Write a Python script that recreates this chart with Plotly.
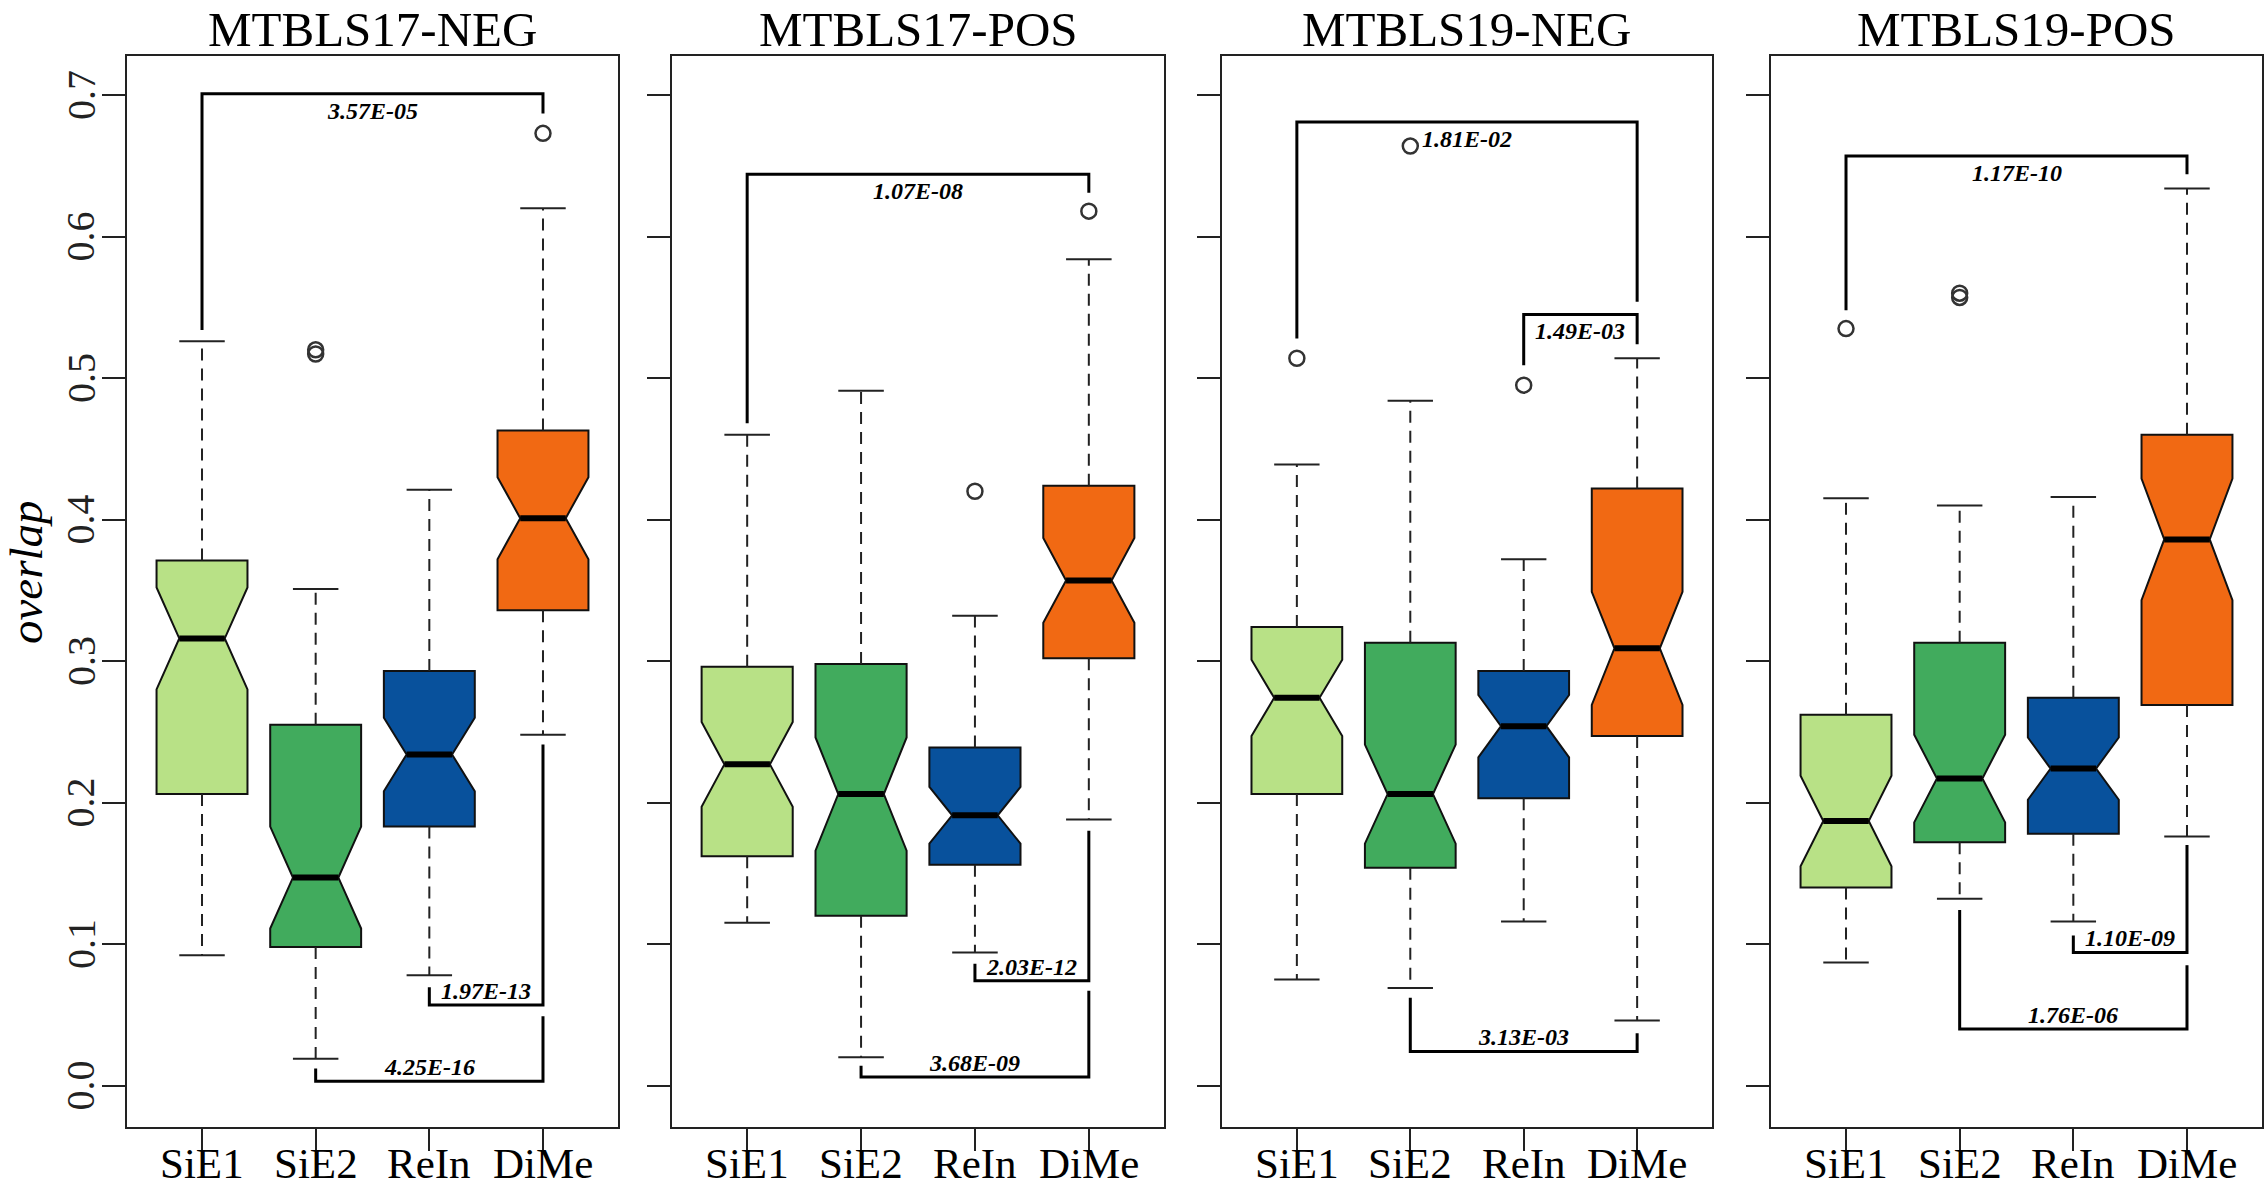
import plotly.graph_objects as go

# ---------------- data ----------------
methods = ["SiE1", "SiE2", "ReIn", "DiMe"]
panel_titles = ["MTBLS17-NEG", "MTBLS17-POS", "MTBLS19-NEG", "MTBLS19-POS"]
colors = ["#B8E186", "#41AB5D", "#08519C", "#F16913"]
y_title = "overlap"

# MTBLS17-NEG
p1_q1 = [0.206, 0.098, 0.183, 0.336]
p1_med = [0.316, 0.147, 0.234, 0.401]
p1_q3 = [0.371, 0.255, 0.293, 0.463]
p1_lo = [0.092, 0.019, 0.078, 0.248]
p1_hi = [0.526, 0.351, 0.421, 0.620]
p1_notch = [0.036, 0.036, 0.026, 0.029]
p1_out = [[], [0.517, 0.520], [], [0.673]]

# MTBLS17-POS
p2_q1 = [0.162, 0.120, 0.156, 0.302]
p2_med = [0.227, 0.206, 0.191, 0.357]
p2_q3 = [0.296, 0.298, 0.239, 0.424]
p2_lo = [0.115, 0.020, 0.094, 0.188]
p2_hi = [0.460, 0.491, 0.332, 0.584]
p2_notch = [0.030, 0.040, 0.020, 0.030]
p2_out = [[], [], [0.420], [0.618]]

# MTBLS19-NEG
p3_q1 = [0.206, 0.154, 0.203, 0.247]
p3_med = [0.274, 0.206, 0.254, 0.309]
p3_q3 = [0.324, 0.313, 0.293, 0.422]
p3_lo = [0.075, 0.069, 0.116, 0.046]
p3_hi = [0.439, 0.484, 0.372, 0.514]
p3_notch = [0.027, 0.035, 0.022, 0.040]
p3_out = [[0.514], [0.664], [0.495], []]

# MTBLS19-POS
p4_q1 = [0.140, 0.172, 0.178, 0.269]
p4_med = [0.187, 0.217, 0.224, 0.386]
p4_q3 = [0.262, 0.313, 0.274, 0.460]
p4_lo = [0.087, 0.132, 0.116, 0.176]
p4_hi = [0.415, 0.410, 0.416, 0.634]
p4_notch = [0.032, 0.031, 0.022, 0.043]
p4_out = [[0.535], [0.557, 0.560], [], []]

# significance brackets: (group a, group b, bracket level, end of leg a, end of leg b, p-value, side)
p1_brackets = [("SiE1", "DiMe", 0.701, 0.534, 0.687, "3.57E-05", "top"),
               ("ReIn", "DiMe", 0.057, 0.0695, 0.241, "1.97E-13", "bottom"),
               ("SiE2", "DiMe", 0.003, 0.012, 0.049, "4.25E-16", "bottom")]
p2_brackets = [("SiE1", "DiMe", 0.644, 0.468, 0.631, "1.07E-08", "top"),
               ("ReIn", "DiMe", 0.074, 0.086, 0.180, "2.03E-12", "bottom"),
               ("SiE2", "DiMe", 0.006, 0.014, 0.067, "3.68E-09", "bottom")]
p3_brackets = [("SiE1", "DiMe", 0.681, 0.528, 0.554, "1.81E-02", "top"),
               ("ReIn", "DiMe", 0.545, 0.509, 0.524, "1.49E-03", "top"),
               ("SiE2", "DiMe", 0.024, 0.062, 0.037, "3.13E-03", "bottom")]
p4_brackets = [("SiE1", "DiMe", 0.657, 0.548, 0.644, "1.17E-10", "top"),
               ("ReIn", "DiMe", 0.094, 0.106, 0.170, "1.10E-09", "bottom"),
               ("SiE2", "DiMe", 0.040, 0.124, 0.085, "1.76E-06", "bottom")]

y_ticks = [0.0, 0.1, 0.2, 0.3, 0.4, 0.5, 0.6, 0.7]
y_ticktext = ["0.0", "0.1", "0.2", "0.3", "0.4", "0.5", "0.6", "0.7"]

panels = [
    (p1_q1, p1_med, p1_q3, p1_lo, p1_hi, p1_notch, p1_out, p1_brackets),
    (p2_q1, p2_med, p2_q3, p2_lo, p2_hi, p2_notch, p2_out, p2_brackets),
    (p3_q1, p3_med, p3_q3, p3_lo, p3_hi, p3_notch, p3_out, p3_brackets),
    (p4_q1, p4_med, p4_q3, p4_lo, p4_hi, p4_notch, p4_out, p4_brackets),
]

# ---------------- layout / style ----------------
W, H = 2268, 1189
FONT = "Times New Roman, Liberation Serif, Times, serif"
x_dom_px = [(127, 618), (672, 1164), (1222, 1712), (1771, 2262)]
y_dom_px = (55.5, 1127)
BOX_W = 0.8
CAP_HALF = 0.2
MED_HALF = 0.2

fig = go.Figure()
annotations = []

for k, (q1, med, q3, lo, hi, notch, outl, brackets) in enumerate(panels):
    sx = "" if k == 0 else str(k + 1)
    xa, ya = "x" + sx, "y" + sx
    pos = list(range(1, len(methods) + 1))

    # notched boxes
    for i, m in enumerate(methods):
        fig.add_trace(go.Box(
            x=[pos[i]], q1=[q1[i]], median=[med[i]], q3=[q3[i]],
            lowerfence=[q1[i]], upperfence=[q3[i]],
            notched=True, notchspan=[notch[i]], notchwidth=0.25,
            width=BOX_W, whiskerwidth=0, boxpoints=False,
            fillcolor=colors[i], line=dict(color="#111111", width=2),
            name=m, hoverinfo="skip", xaxis=xa, yaxis=ya))

    # dashed whiskers
    wx, wy = [], []
    for i in range(len(methods)):
        wx += [pos[i], pos[i], None, pos[i], pos[i], None]
        wy += [q3[i], hi[i], None, q1[i], lo[i], None]
    fig.add_trace(go.Scatter(x=wx, y=wy, mode="lines",
                             line=dict(color="#222222", width=2, dash="12px,8px"),
                             hoverinfo="skip", xaxis=xa, yaxis=ya))
    # whisker caps
    cx, cy = [], []
    for i in range(len(methods)):
        cx += [pos[i] - CAP_HALF, pos[i] + CAP_HALF, None, pos[i] - CAP_HALF, pos[i] + CAP_HALF, None]
        cy += [hi[i], hi[i], None, lo[i], lo[i], None]
    fig.add_trace(go.Scatter(x=cx, y=cy, mode="lines",
                             line=dict(color="#222222", width=2),
                             hoverinfo="skip", xaxis=xa, yaxis=ya))
    # thick medians
    mx, my = [], []
    for i in range(len(methods)):
        mx += [pos[i] - MED_HALF, pos[i] + MED_HALF, None]
        my += [med[i], med[i], None]
    fig.add_trace(go.Scatter(x=mx, y=my, mode="lines",
                             line=dict(color="black", width=6),
                             hoverinfo="skip", xaxis=xa, yaxis=ya))
    # outliers
    ox, oy = [], []
    for i in range(len(methods)):
        for v in outl[i]:
            ox.append(pos[i])
            oy.append(v)
    fig.add_trace(go.Scatter(x=ox, y=oy, mode="markers",
                             marker=dict(symbol="circle-open", size=15, color="#333333",
                                         line=dict(color="#333333", width=2.5)),
                             hoverinfo="skip", xaxis=xa, yaxis=ya))
    # significance brackets
    for (a, b, lev, ea, eb, lab, side) in brackets:
        xa_i = methods.index(a) + 1
        xb_i = methods.index(b) + 1
        fig.add_trace(go.Scatter(x=[xa_i, xa_i, xb_i, xb_i], y=[ea, lev, lev, eb],
                                 mode="lines", line=dict(color="black", width=3),
                                 hoverinfo="skip", xaxis=xa, yaxis=ya))
        off = -0.012 if side == "top" else 0.010
        annotations.append(dict(x=(xa_i + xb_i) / 2, y=lev + off, xref=xa, yref=ya,
                                text=lab, showarrow=False, xanchor="center", yanchor="middle",
                                font=dict(family=FONT, size=24, color="black",
                                          style="italic", weight="bold")))

    # axes
    x0, x1 = x_dom_px[k]
    xdom = [x0 / W, x1 / W]
    ydom = [(H - y_dom_px[1]) / H, (H - y_dom_px[0]) / H]
    xkey = "xaxis" + sx
    ykey = "yaxis" + sx
    fig.layout[xkey] = dict(domain=xdom, anchor=ya, range=[0.34, 4.66],
                            tickvals=pos, ticks="outside", showticklabels=False,
                            ticklen=22, tickwidth=2, tickcolor="#222222",
                            showline=True, mirror=True, linecolor="#222222", linewidth=2,
                            showgrid=False, zeroline=False)
    fig.layout[ykey] = dict(domain=ydom, anchor=xa, range=[-0.0293, 0.728],
                            tickvals=y_ticks, ticks="outside", showticklabels=False,
                            ticklen=23, tickwidth=2, tickcolor="#222222",
                            showline=True, mirror=True, linecolor="#222222", linewidth=2,
                            showgrid=False, zeroline=False)
    # category labels under each tick
    for i, m in enumerate(methods):
        annotations.append(dict(x=pos[i], y=0, xref=xa, yref="paper",
                                text=m, showarrow=False, xanchor="center", yanchor="bottom",
                                font=dict(family=FONT, size=43, color="black")))
    # panel title
    annotations.append(dict(x=(xdom[0] + xdom[1]) / 2, y=1.0, xref="paper", yref="paper",
                            text=panel_titles[k], showarrow=False, xanchor="center", yanchor="top",
                            font=dict(family=FONT, size=49, color="black")))

# y tick labels (left panel only), rotated as in the original
for v, t in zip(y_ticks, y_ticktext):
    annotations.append(dict(x=81 / W, y=v, xref="paper", yref="y",
                            text=t, showarrow=False, textangle=-90,
                            xanchor="center", yanchor="middle",
                            font=dict(family=FONT, size=40, color="#222222")))

# y-axis title
annotations.append(dict(x=26 / W, y=(H - 572) / H, xref="paper", yref="paper",
                        text=y_title, showarrow=False, textangle=-90,
                        xanchor="center", yanchor="middle",
                        font=dict(family=FONT, size=47, color="black", style="italic")))

fig.update_layout(width=W, height=H, margin=dict(l=0, r=0, t=0, b=0),
                  font=dict(family=FONT),
                  plot_bgcolor="white", paper_bgcolor="white", showlegend=False,
                  boxmode="overlay", annotations=annotations)

fig.write_html("out.html", config={"displayModeBar": False},
               post_script="document.body.style.margin='0px';document.body.style.overflow='hidden';")
